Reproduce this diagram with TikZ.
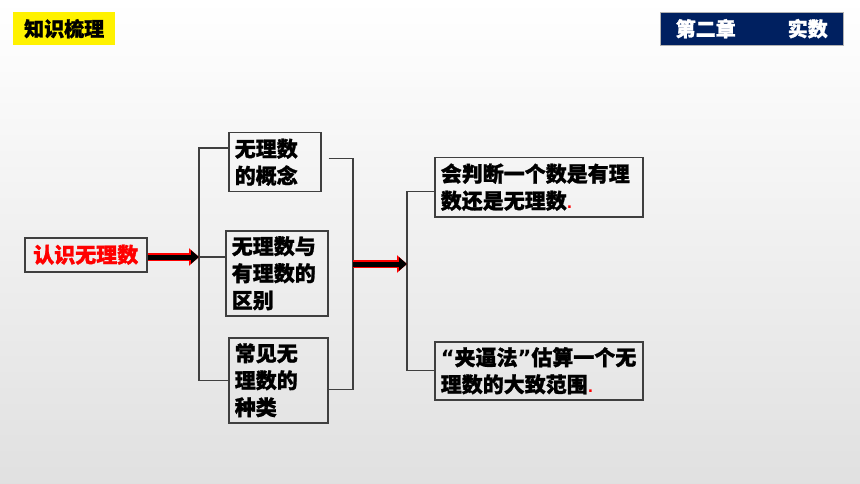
\documentclass[tikz,border=0pt]{standalone}
\usepackage{fontspec}
\setmainfont{Noto Sans CJK SC}[BoldFeatures={FakeBold=1.2}]
\newfontfamily\qfont{DejaVu Sans}
\usetikzlibrary{arrows.meta}
\definecolor{navy}{HTML}{002060}
\definecolor{frame}{HTML}{3F3F3F}
\definecolor{hired}{HTML}{FF0000}
\newcommand{\reddot}{{\color{hired}\qfont\bfseries\fontsize{14}{14}\selectfont.}}
\begin{document}
\begin{tikzpicture}[x=1pt,y=-1pt,
    txt/.style={font=\bfseries\fontsize{21}{27}\selectfont},
    box/.style={txt,draw=frame,line width=1.5pt,anchor=north west,align=left,inner xsep=6pt,inner ysep=0pt},
    link/.style={draw=frame,line width=1.3pt},
    fatout/.style={hired,line width=7.5pt,-{Triangle[length=10pt,width=17pt]}},
    fatin/.style={black,line width=5pt,-{Triangle[length=8pt,width=13pt]}}]
    \useasboundingbox (0,0) rectangle (860,484);
    \shade[top color=white,bottom color=black!12] (0,0) rectangle (860,484);
    % header
    \node[fill=yellow,anchor=north west,minimum width=102pt,minimum height=33pt,inner sep=0pt,font=\bfseries\fontsize{20}{20}\selectfont] (tag) at (13,12) {知识梳理};
    \node[fill=navy,draw=black!30,anchor=north west,minimum width=183pt,minimum height=33pt,inner sep=0pt,text=white,font=\bfseries\fontsize{20}{20}\selectfont] (chap) at (660,12) {第二章\hspace{52pt}实数};
    % boxes
    \node[box,text=hired,minimum width=122pt,minimum height=34pt,inner xsep=0pt,align=center] (root) at (24,237) {认识无理数};
    \node[box,text width=80pt,minimum height=59pt] (b1) at (228,132) {无理数\\的概念};
    \node[box,text width=90pt,minimum height=85pt] (b2) at (225,230) {无理数与\\有理数的\\区别};
    \node[box,text width=87pt,minimum height=85pt] (b3) at (228,337) {常见无\\理数的\\种类};
    \node[box,text width=196pt,minimum height=59pt] (r1) at (434,157) {会判断一个数是有理\\数还是无理数\reddot};
    \node[box,text width=196pt,minimum height=58pt] (r2) at (434,341) {{\qfont“}夹逼法{\qfont”}估算一个无\\理数的大致范围\reddot};
    % brackets
    \coordinate (lb) at (199,257);
    \coordinate (rb) at (353,264);
    \coordinate (rr) at (407,264);
    \draw[link] ([yshift=-16pt]b1.north west) -| (lb) |- (b3.west);
    \draw[link] (lb) -- (lb -| b2.west);
    \draw[link] ([xshift=7pt,yshift=4pt]b1.east) -| (rb) |- ([yshift=-9pt]b3.east);
    \draw[link] ([yshift=-4.5pt]r1.west) -| (rr) |- (r2.west);
    % arrows
    \draw[fatout] (root.east |- lb) -- (lb);
    \draw[fatin] (root.east |- lb) -- (lb);
    \draw[fatout] (rb) -- (rr);
    \draw[fatin] (rb) -- (rr);
\end{tikzpicture}
\end{document}
